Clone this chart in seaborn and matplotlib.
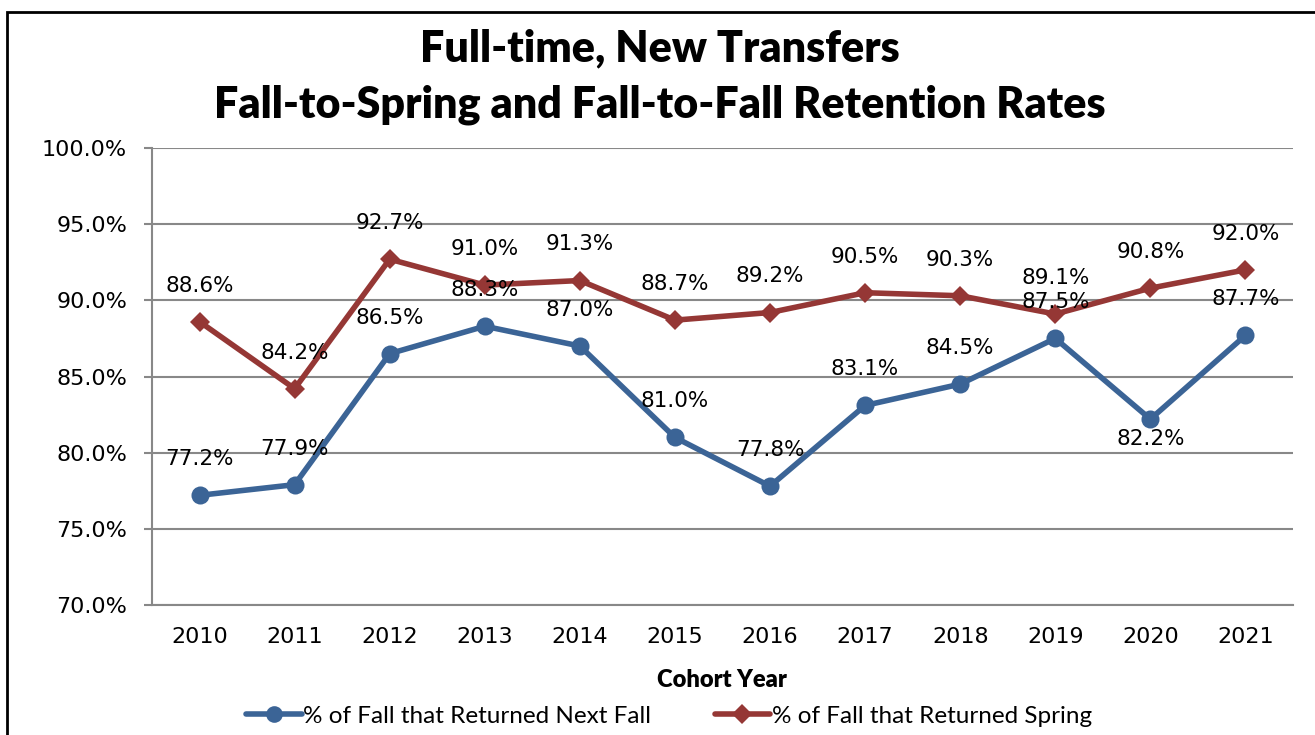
import matplotlib
matplotlib.use("Agg")
import matplotlib.pyplot as plt
import matplotlib.patches as mpatches
from matplotlib.lines import Line2D
import seaborn as sns
import pandas as pd

years = [2010, 2011, 2012, 2013, 2014, 2015, 2016, 2017, 2018, 2019, 2020, 2021]
next_fall = [77.2, 77.9, 86.5, 88.3, 87.0, 81.0, 77.8, 83.1, 84.5, 87.5, 82.2, 87.7]
spring = [88.6, 84.2, 92.7, 91.0, 91.3, 88.7, 89.2, 90.5, 90.3, 89.1, 90.8, 92.0]

name_fall = "% of Fall that Returned Next Fall"
name_spring = "% of Fall that Returned Spring"
blue = "#3B6496"
red = "#953735"

df = pd.DataFrame({"year": years, name_fall: next_fall, name_spring: spring})
long = df.melt(id_vars="year", var_name="series", value_name="rate")

sns.set_style("white")
plt.rcParams["font.family"] = ["DejaVu Sans"]
plt.rcParams["text.color"] = "black"
plt.rcParams["xtick.labelcolor"] = "black"
plt.rcParams["ytick.labelcolor"] = "black"

fig = plt.figure(figsize=(13.15, 7.35), dpi=100)
ax = fig.add_axes([152 / 1315, 1 - 605 / 735, (1293 - 152) / 1315, (605 - 148) / 735])

sns.lineplot(data=long[long.series == name_fall], x="year", y="rate", ax=ax,
             color=blue, linewidth=4, marker="o", markersize=13,
             markeredgewidth=0, legend=False)
sns.lineplot(data=long[long.series == name_spring], x="year", y="rate", ax=ax,
             color=red, linewidth=4, marker="D", markersize=10,
             markeredgewidth=0, legend=False)

# data labels
for x, v in zip(years, spring):
    ax.annotate(f"{v:.1f}%", (x, v), xytext=(0, 26), textcoords="offset points",
                ha="center", va="center", fontsize=15.5, color="black")
for x, v in zip(years, next_fall):
    dy = -14 if x == 2020 else 26
    ax.annotate(f"{v:.1f}%", (x, v), xytext=(0, dy), textcoords="offset points",
                ha="center", va="center", fontsize=15.5, color="black")

ax.set_xlim(2009.5, 2021.5)
ax.set_ylim(70, 100)
ax.set_yticks([70, 75, 80, 85, 90, 95, 100])
ax.set_yticklabels([f"{t:.1f}%" for t in [70, 75, 80, 85, 90, 95, 100]], fontsize=16)
ax.set_xticks(years)
ax.set_xticklabels([str(y) for y in years], fontsize=16)
ax.set_xticks([y - 0.5 for y in years] + [2021.5], minor=True)
ax.tick_params(axis="x", which="major", length=0, pad=16)
ax.tick_params(axis="x", which="minor", length=6, width=1.5, color="#888888")
ax.tick_params(axis="y", length=6, width=1.5, color="#888888", left=True, pad=12)
ax.grid(axis="y", color="#888888", linewidth=1.5)
ax.set_axisbelow(True)
for s in ["top", "right"]:
    ax.spines[s].set_visible(False)
for s in ["left", "bottom"]:
    ax.spines[s].set_color("#888888")
    ax.spines[s].set_linewidth(1.5)
ax.set_xlabel("")
ax.set_ylabel("")

fig.text(722 / 1315, 1 - 680 / 735, "Cohort Year", ha="center", va="center",
         fontsize=17, fontweight="heavy", family="Lato", color="black")

fig.text(660 / 1315, 1 - 48 / 735, "Full-time, New Transfers", ha="center", va="center",
         fontsize=31, fontweight="heavy", family="Lato", color="black")
fig.text(660 / 1315, 1 - 105 / 735, "Fall-to-Spring and Fall-to-Fall Retention Rates",
         ha="center", va="center", fontsize=31, fontweight="heavy", family="Lato",
         color="black")

handles = [Line2D([], [], color=blue, linewidth=4, marker="o", markersize=12, markeredgewidth=0),
           Line2D([], [], color=red, linewidth=4, marker="D", markersize=10, markeredgewidth=0)]
fig.legend(handles, [name_fall, name_spring], loc="center", ncol=2,
           bbox_to_anchor=(669 / 1315, 1 - 716 / 735), frameon=False,
           prop={"family": "Lato", "size": 17.5}, handlelength=2.3, handletextpad=0.05,
           columnspacing=2.6)

border = mpatches.Rectangle((7 / 1315, -0.1), 1.2, 1.1 - 12 / 735, transform=fig.transFigure,
                            fill=False, edgecolor="black", linewidth=2, clip_on=False)
fig.patches.append(border)

fig.savefig("out.png", dpi=100)
